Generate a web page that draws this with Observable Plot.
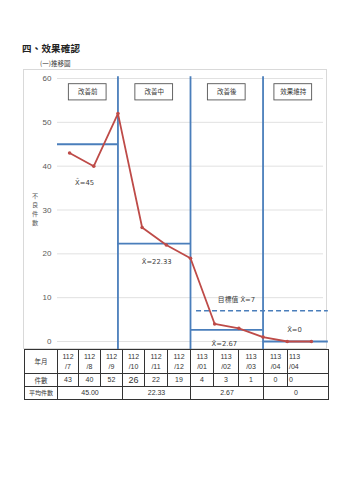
<!DOCTYPE html>
<html><head><meta charset="utf-8">
<script src="https://cdn.jsdelivr.net/npm/d3@7"></script>
<script src="https://cdn.jsdelivr.net/npm/@observablehq/plot@0.6"></script>
<style>
body{margin:0;background:#fff;width:340px;height:480px;position:relative;overflow:hidden;font-family:"Noto Sans CJK TC","Noto Sans",sans-serif;}
#title{position:absolute;left:22px;top:41px;font-size:9.5px;font-weight:bold;color:#222;letter-spacing:0.2px;}
#sub{position:absolute;left:40px;top:58px;font-size:6.5px;color:#333;}
#frame{position:absolute;left:23px;top:69px;width:304px;height:280px;border:1px solid #d9d9d9;box-sizing:border-box;}
#chart{position:absolute;left:0;top:66px;}
#ylab{position:absolute;left:30px;top:191px;font-size:6.2px;line-height:9px;color:#595959;width:10px;text-align:center;}
#tbl{position:absolute;left:24px;top:349px;border-collapse:collapse;table-layout:fixed;background:#fff;font-size:7px;color:#333;font-family:"Liberation Sans","Noto Sans CJK TC",sans-serif;}
#tbl td{border:0.8px solid #333;padding:0;text-align:center;line-height:1.35;overflow:hidden;white-space:nowrap;color:#333;}
#tbl td.h{font-family:"Noto Sans CJK TC",sans-serif;}
</style></head>
<body>
<div id="title">四、效果確認</div>
<div id="sub">(一)推移圖</div>
<div id="frame"></div>
<div id="chart"></div>
<div id="ylab"></div>
<table id="tbl"></table>
<script>
// ---- data ----
const months = ["112/7","112/8","112/9","112/10","112/11","112/12","113/01","113/02","113/03","113/04","113/04"];
const counts = [43, 40, 52, 26, 22, 19, 4, 3, 1, 0, 0];
const phases = ["改善前", "改善中", "改善後", "效果維持"];
const phaseSizes = [3, 3, 3, 2];
const phaseMeans = [45, 22.33, 2.67, 0];
const phaseMeanText = ["45.00", "22.33", "2.67", "0"];
const meanLabels = ["X\u0304=45", "X\u0304=22.33", "X\u0304=2.67", "X\u0304=0"];
const target = 7;
const targetLabel = "目標值 X\u0304=7";
const yTicks = [0, 10, 20, 30, 40, 50, 60];
const yLabel = "不良件數";

// ---- derived structure ----
const pts = counts.map((v, i) => ({i, v, m: months[i]}));
let acc = 0;
const ph = phases.map((name, k) => {
  const first = acc; acc += phaseSizes[k]; const last = acc - 1;
  return {name, k, first, last, mean: phaseMeans[k]};
});
const n = counts.length;
const lo = -0.5, hi = n - 0.5, ext = hi + 0.2;
const segs = ph.map((p, k) => ({
  x1: k === 0 ? lo : ph[k - 1].last,
  x2: k === ph.length - 1 ? ext : p.last,
  y: p.mean
}));
const dividers = ph.slice(0, -1).map(p => ({x: p.last}));
const boxes = ph.map((p, k) => {
  const a = k === 0 ? lo : ph[k - 1].last, b = k === ph.length - 1 ? hi : p.last;
  const c = (a + b) / 2;
  return {name: p.name, c, x1: c - 0.78, x2: c + 0.78, y1: 55.0, y2: 58.7};
});
// label anchor positions (annotation layout)
const labelPos = [{x: 0.62, y: 36.3}, {x: 3.6, y: 18.2}, {x: 6.4, y: -0.6}, {x: 9.3, y: 2.6}];
const labels = meanLabels.map((t, k) => ({t, ...labelPos[k]}));

const RED = "#be4b48", BLUE = "#4a7ebb";
const font = "'Noto Sans CJK TC','Noto Sans',sans-serif";
const lblFont = "'DejaVu Sans','Noto Sans CJK TC',sans-serif";

document.getElementById("ylab").innerHTML = yLabel.split("").join("<br>");

const chart = Plot.plot({
  width: 340, height: 283,
  marginLeft: 57, marginRight: 17, marginTop: 12, marginBottom: 8,
  style: {fontFamily: font, fontSize: "7px", color: "#595959", background: "transparent", overflow: "visible"},
  x: {domain: [lo, hi], axis: null},
  y: {domain: [0, 60], ticks: yTicks, tickSize: 0, tickPadding: 6, label: null, tickFormat: d => d},
  marks: [
    Plot.gridY(yTicks, {stroke: "#d9d9d9", strokeOpacity: 1, strokeWidth: 0.8}),
    Plot.axisY(yTicks, {tickSize: 0, tickPadding: 6, fontSize: 8, fill: "#595959", fontFamily: "'Liberation Sans',sans-serif", label: null}),
    Plot.ruleX(dividers, {x: "x", y1: -1.9, y2: 60.4, stroke: BLUE, strokeWidth: 1.8}),
    Plot.ruleY(segs, {y: "y", x1: "x1", x2: "x2", stroke: BLUE, strokeWidth: 1.8}),
    Plot.ruleY([target], {y: d => d, x1: 5.25, x2: ext, stroke: BLUE, strokeWidth: 1.6, strokeDasharray: "5,3"}),
    Plot.line(pts, {x: "i", y: "v", stroke: RED, strokeWidth: 1.8}),
    Plot.dot(pts, {x: "i", y: "v", r: 1.8, fill: RED, stroke: "none"}),
    Plot.rect(boxes, {x1: "x1", x2: "x2", y1: "y1", y2: "y2", fill: "white", stroke: "#555", strokeWidth: 0.9}),
    Plot.text(boxes, {x: "c", y: d => (d.y1 + d.y2) / 2, text: "name", fontSize: 6.5, fill: "#333"}),
    Plot.text(labels, {x: "x", y: "y", text: "t", fontSize: 6.8, fill: "#404040", fontFamily: lblFont}),
    Plot.text([targetLabel], {x: 6.9, y: 9.4, text: d => d, fontSize: 6.8, fill: "#404040", fontFamily: lblFont})
  ]
});
document.getElementById("chart").appendChild(chart);

// ---- table ----
const colW = [33, 21, 22, 22, 22, 23, 23, 23, 25, 25, 24, 41];
const tbl = document.getElementById("tbl");
const cg = document.createElement("colgroup");
colW.forEach(w => { const c = document.createElement("col"); c.style.width = w + "px"; cg.appendChild(c); });
tbl.appendChild(cg);
tbl.style.width = d3.sum(colW) + "px";
function row(h) { const r = tbl.insertRow(); r.style.height = h + "px"; return r; }
const r1 = row(24);
let c = r1.insertCell(); c.textContent = "年月"; c.className = "h"; c.style.fontSize = "6.5px";
months.forEach((m, i) => {
  const [a, b] = m.split("/");
  const td = r1.insertCell();
  td.innerHTML = a + "<br>/" + b;
  if (i === n - 1) { td.style.textAlign = "left"; td.style.paddingLeft = "1px"; }
});
const r2 = row(12);
c = r2.insertCell(); c.textContent = "件數"; c.className = "h"; c.style.fontSize = "6.5px";
counts.forEach((v, i) => {
  const td = r2.insertCell(); td.textContent = v;
  if (i === 3) td.style.fontSize = "9px";
  if (i === n - 1) { td.style.textAlign = "left"; td.style.paddingLeft = "1px"; }
});
const r3 = row(13);
c = r3.insertCell(); c.textContent = "平均件數"; c.className = "h"; c.style.fontSize = "6px";
ph.forEach((p, k) => { const td = r3.insertCell(); td.colSpan = phaseSizes[k]; td.textContent = phaseMeanText[k]; });
</script>
</body></html>
